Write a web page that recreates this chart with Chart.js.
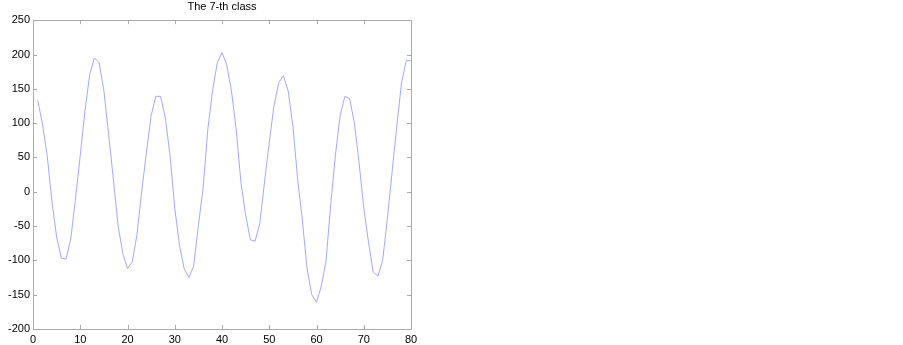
<!DOCTYPE html>
<html>
<head>
<meta charset="utf-8">
<script src="https://cdn.jsdelivr.net/npm/chart.js@4.4.1/dist/chart.umd.min.js"></script>
<style>
body { margin: 0; background: #fff; }
#wrap { position: absolute; left: 0; top: 0; width: 422px; height: 345px; }
</style>
</head>
<body>
<div id="wrap"><canvas id="class_canvas"></canvas></div>
<script>
// samples 1..80 of the 7-th class
const class_x = [];
for (let i = 1; i <= 80; i++) class_x.push(i);
const class_values = [
    133, 99, 53, -14, -66, -97, -98, -68, -10, 53,
    118, 171, 195, 188, 147, 84, 19, -49, -90, -112,
    -102, -63, 0, 57, 111, 139, 139, 108, 53, -24,
    -78, -112, -125, -108, -49, 5, 91, 147, 188, 203,
    185, 147, 91, 14, -34, -70, -72, -46, 14, 72,
    125, 159, 169, 147, 96, 19, -41, -112, -150, -161,
    -138, -102, -19, 53, 111, 139, 136, 101, 43, -24,
    -73, -117, -123, -100, -39, 29, 96, 159, 191, 191
];
const x_ticks = [0, 10, 20, 30, 40, 50, 60, 70, 80];
const y_ticks = [-200, -150, -100, -50, 0, 50, 100, 150, 200, 250];

const points = class_x.map((x, i) => ({ x: x, y: class_values[i] }));

// box + inward ticks, matlab style
const box_plugin = {
    id: 'box_plugin',
    afterDraw(chart) {
        const ctx = chart.ctx;
        const a = chart.chartArea;
        const xs = chart.scales.x;
        const ys = chart.scales.y;
        ctx.save();
        ctx.strokeStyle = '#aaaaaa';
        ctx.lineWidth = 1;
        ctx.beginPath();
        ctx.rect(Math.round(a.left) + 0.5, Math.round(a.top) + 0.5,
                 Math.round(a.right - a.left), Math.round(a.bottom - a.top));
        for (const v of x_ticks) {
            const px = Math.round(xs.getPixelForValue(v)) + 0.5;
            ctx.moveTo(px, a.bottom); ctx.lineTo(px, a.bottom - 4);
            ctx.moveTo(px, a.top); ctx.lineTo(px, a.top + 4);
        }
        for (const v of y_ticks) {
            const py = Math.round(ys.getPixelForValue(v)) + 0.5;
            ctx.moveTo(a.left, py); ctx.lineTo(a.left + 4, py);
            ctx.moveTo(a.right, py); ctx.lineTo(a.right - 4, py);
        }
        ctx.stroke();
        ctx.restore();
    }
};

const class_config = {
    type: 'line',
    data: {
        datasets: [
            {
                label: 'The 7-th class',
                data: points,
                borderColor: '#a6a6ff',
                borderWidth: 1,
                pointRadius: 0,
                tension: 0,
                fill: false
            },
        ],
    },
    options: {
        responsive: true,
        maintainAspectRatio: false,
        animation: false,
        layout: { padding: { left: 0, right: 11, top: 0, bottom: 0 } },
        plugins: {
            legend: { display: false },
            tooltip: { enabled: false },
            title: {
                display: true,
                text: 'The 7-th class',
                fullSize: false,
                color: '#000',
                font: { family: 'Liberation Sans', size: 11, weight: 'normal' },
                padding: { top: 0, bottom: 7 }
            }
        },
        scales: {
            x: {
                type: 'linear',
                min: 0,
                max: 80,
                afterBuildTicks: (s) => { s.ticks = x_ticks.map(v => ({ value: v })); },
                afterFit: (s) => { s.height = 16; },
                grid: { display: false, drawTicks: false },
                border: { display: false },
                ticks: {
                    color: '#000',
                    padding: 4,
                    maxRotation: 0,
                    font: { family: 'Liberation Sans', size: 11 }
                }
            },
            y: {
                type: 'linear',
                min: -200,
                max: 250,
                afterBuildTicks: (s) => { s.ticks = y_ticks.map(v => ({ value: v })); },
                afterFit: (s) => { s.width = 33; },
                grid: { display: false, drawTicks: false },
                border: { display: false },
                ticks: {
                    color: '#000',
                    padding: 3,
                    font: { family: 'Liberation Sans', size: 11 }
                }
            }
        }
    },
    plugins: [box_plugin]
};

const class_canvas = document.getElementById('class_canvas');
const class_chart = new Chart(class_canvas, class_config);
</script>
</body>
</html>
